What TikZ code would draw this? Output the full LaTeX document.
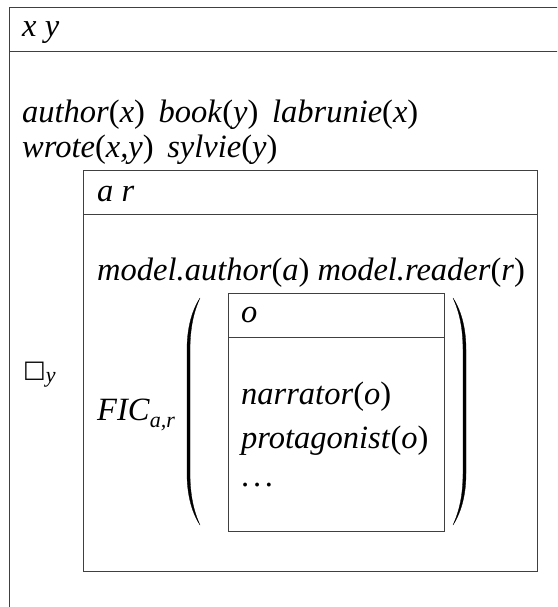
\documentclass[tikz,border=0pt]{standalone}
\usepackage{fontspec}
\setmainfont{Liberation Serif}
\newfontfamily\symfont{DejaVu Sans}
\newcommand{\pr}[2]{\textit{#1}(\textit{#2})}
\begin{document}
\begin{tikzpicture}[x=1pt,y=-1pt,
  drsline/.style={line width=1pt,draw=black!75},
  txt/.style={anchor=base west,inner sep=0pt,font=\fontsize{32.5}{38}\selectfont},
  paren/.style={fill=black,draw=black,line width=0.3pt}]
\useasboundingbox (0,0) rectangle (557,607);
\clip (0,0) rectangle (557,607);

% outer box (runs past the page on the right and bottom)
\draw[drsline] (9,8) rectangle (580,640);
\draw[drsline] (9,52) -- (580,52);
\node[txt] (u1) at (22,37) {\textit{x y}};
\node[txt] (c1) at (22,122) {\pr{author}{x}\hspace{0.42em}\pr{book}{y}\hspace{0.42em}\pr{labrunie}{x}};
\node[txt] (c2) at (22,157) {\pr{wrote}{x,y}\hspace{0.42em}\pr{sylvie}{y}};

% modal operator with its subscript
\node[anchor=base west,inner sep=0pt] (box) at (23,377)
  {{\symfont\fontsize{24}{26}\selectfont □}\raisebox{-5pt}{\fontsize{22}{24}\selectfont\textit{y}}};

% middle box
\draw[drsline] (83,170) rectangle (537,571);
\draw[drsline] (83,214) -- (537,214);
\node[txt] (u2) at (97,201) {\textit{a r}};
\node[txt] (c3) at (97,280) {\textit{model.author}(\textit{a}) \textit{model.reader}(\textit{r})};
\node[txt] (fic) at (97,420) {\textit{FIC}\raisebox{-0.22em}{\fontsize{22}{24}\selectfont\textit{a,r}}};

% parentheses
\fill[paren] (200,298) .. controls (191,312) and (187,330) .. (187,350) -- (187,473)
  .. controls (187,493) and (191,511) .. (200,525)
  .. controls (193,510) and (190,493) .. (190,473) -- (190,350)
  .. controls (190,330) and (193,313) .. (200,298) -- cycle;
\fill[paren] (453,298) .. controls (462,312) and (466,330) .. (466,350) -- (466,473)
  .. controls (466,493) and (462,511) .. (453,525)
  .. controls (460,510) and (463,493) .. (463,473) -- (463,350)
  .. controls (463,330) and (460,313) .. (453,298) -- cycle;

% inner box
\draw[drsline] (228,293) rectangle (444,531);
\draw[drsline] (228,337) -- (444,337);
\node[txt] (u3) at (241,322) {\textit{o}};
\node[txt] (c4) at (241,404) {\pr{narrator}{o}};
\node[txt] (c5) at (241,448) {\pr{protagonist}{o}};
\node[txt] (c6) at (241,486) {.\hspace{0.115em}.\hspace{0.115em}.};
\end{tikzpicture}
\end{document}
